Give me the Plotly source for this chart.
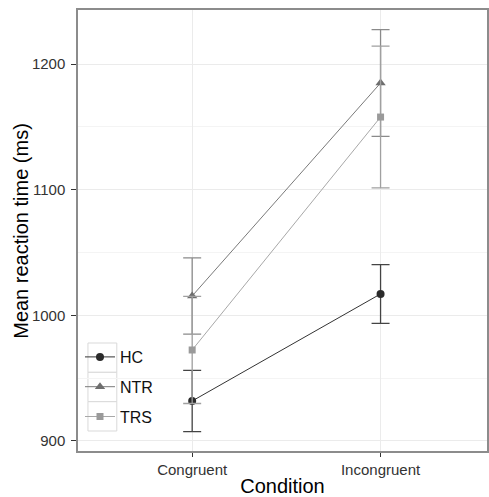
import plotly.graph_objects as go

conditions = ["Congruent", "Incongruent"]
groups = ["HC", "NTR", "TRS"]
hc_mean = [931.8, 1017.0]
hc_se = [24.3, 23.4]
ntr_mean = [1015.4, 1184.9]
ntr_se = [30.3, 42.5]
trs_mean = [972.4, 1157.8]
trs_se = [42.6, 56.4]
y_ticks = [900, 1000, 1100, 1200]

means = {"HC": hc_mean, "NTR": ntr_mean, "TRS": trs_mean}
ses = {"HC": hc_se, "NTR": ntr_se, "TRS": trs_se}
line_col = {"HC": "#333333", "NTR": "#7a7a7a", "TRS": "#a8a8a8"}
mark_col = {"HC": "#2b2b2b", "NTR": "#6e6e6e", "TRS": "#9a9a9a"}
err_col = {"HC": "#444444", "NTR": "#8a8a8a", "TRS": "#a0a0a0"}
symbols = {"HC": "circle", "NTR": "triangle-up", "TRS": "square"}
msize = {"HC": 8, "NTR": 9, "TRS": 7}

fig = go.Figure()
for g in groups:
    fig.add_trace(go.Scatter(
        x=conditions, y=means[g], name=g, mode="lines+markers",
        legendgroup=g,
        line=dict(color=line_col[g], width=1),
        marker=dict(symbol=symbols[g], size=msize[g], color=mark_col[g]),
        error_y=dict(type="data", array=ses[g], visible=True,
                     color=err_col[g], thickness=1.3, width=9),
    ))

W, H = 489, 497
L, R, T, B = 78, 0, 10, 46
pw, ph = W - L - R, H - T - B

def px_x(p):
    return (p - L) / pw

def px_y(p):
    return (H - B - p) / ph

shapes = []
for top in [343, 372.3, 401.7]:
    shapes.append(dict(type="rect", xref="paper", yref="paper",
                       x0=px_x(88), x1=px_x(117), y0=px_y(top + 29.3), y1=px_y(top),
                       line=dict(color="#d9d9d9", width=1), fillcolor="white",
                       layer="below"))

fig.update_layout(
    width=W, height=H,
    margin=dict(l=L, r=R, t=T, b=B),
    plot_bgcolor="white", paper_bgcolor="white",
    font=dict(family="Liberation Sans, Arial, sans-serif"),
    shapes=shapes,
    showlegend=True,
    legend=dict(x=px_x(80), y=px_y(340), xanchor="left", yanchor="top",
                bgcolor="rgba(0,0,0,0)", font=dict(size=16, color="#111111"),
                traceorder="grouped", tracegroupgap=6,
                itemwidth=30),
    annotations=[dict(text="Mean reaction time (ms)", xref="paper", yref="paper",
                      x=px_x(20), y=0.5, xanchor="center", yanchor="middle",
                      textangle=-90, showarrow=False,
                      font=dict(size=20, color="#000000"))],
    xaxis=dict(type="category", range=[-0.606, 1.565],
               showgrid=True, gridcolor="#ebebeb", gridwidth=1,
               showline=True, linecolor="#8c8c8c", linewidth=1.5, mirror=True,
               ticks="outside", ticklen=4, tickcolor="#333333",
               tickfont=dict(size=15, color="#333333"),
               title=dict(text="Condition", font=dict(size=20, color="#000000"), standoff=2),
               zeroline=False),
    yaxis=dict(range=[892.0, 1243.0], tickvals=y_ticks,
               showgrid=True, gridcolor="#ebebeb", gridwidth=1,
               minor=dict(tickvals=[950, 1050, 1150], showgrid=True,
                          gridcolor="#f4f4f4", gridwidth=1),
               showline=True, linecolor="#8c8c8c", linewidth=1.5, mirror=True,
               ticks="outside", ticklen=5, tickcolor="#333333",
               ticklabelstandoff=3,
               tickfont=dict(size=15, color="#333333"),
               zeroline=False),
)

fig.write_html("out.html",
               config={"displayModeBar": False},
               post_script="document.body.style.margin='0';document.body.style.overflow='hidden';")
